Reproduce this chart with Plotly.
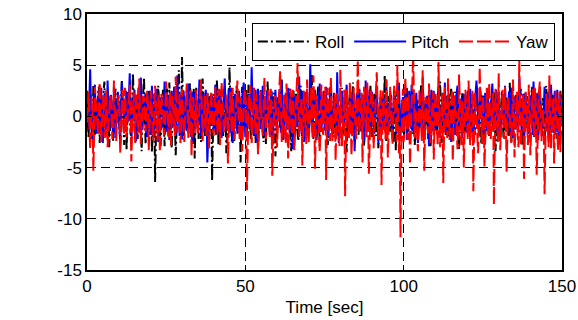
import plotly.graph_objects as go

# Values read (approximately) from the reference, sampled every 0.25 s
roll = [
    1.2, -0.8, -2.1, 0.9, 2.8, 1.1, -0.5, -2.3, 3.1, 0.2, -1.8, 1.6, 0.4, -1.0, 2.2, 2.9, -2.6, -0.7, 1.5, 0.3,
    -0.9, 2.4, 3.4, -1.6, -1.2, 0.5, 0.8, 2.0, -3.0, -1.1, 2.1, 1.3, 0.3, -2.4, -1.5, 1.7, 2.7, -0.2, -0.6, 1.0,
    1.9, -1.3, -2.4, 0.7, 3.6, 1.4, -0.2, -2.8, 1.1, 2.5, -3.3, -0.4, 2.5, 1.2, 0.6, -1.7, -1.9, 0.9, 4.2, 1.8,
    -0.8, -2.5, 1.7, 0.4, -2.2, 1.9, 2.9, -0.6, -1.1, -3.4, 0.5, 2.3, 3.8, 0.1, -2.7, -1.2, 1.3, 2.6, -0.4, -1.8,
    2.4, 0.9, -3.5, -1.4, 0.9, 2.2, -6.4, -2.0, 1.8, 0.6, 3.0, 1.5, -1.6, -2.9, 0.2, 1.4, 2.6, -0.3, -2.9, -1.0,
    1.4, 2.8, -0.7, -1.9, 3.3, 0.8, -2.0, -3.1, 0.7, 1.9, 2.0, -0.5, -3.8, -1.6, 1.0, 2.4, 4.5, 0.7, -1.3, -2.2,
    5.8, 2.1, -2.3, -0.9, 0.6, 1.8, 2.3, -1.2, -1.7, 0.4, 3.2, 1.6, -0.3, -2.4, 1.6, 2.7, -4.1, -1.5, 2.8, 0.3,
    -0.9, -2.2, 1.2, 2.5, -2.5, -0.8, 3.7, 1.1, 0.1, -1.9, -1.4, 0.9, 2.4, 1.3, -3.1, -0.6, 1.9, 2.2, -6.3, -2.4,
    2.2, 1.0, -0.6, -1.8, 3.5, 2.0, -2.8, -0.5, 1.0, 2.6, 0.4, -1.3, -1.9, 0.8, 2.7, 1.5, -3.6, -2.1, 1.5, 0.2,
    4.8, 1.7, -1.0, -2.6, 0.8, 2.0, -2.4, -0.7, 2.1, 3.0, -0.5, -1.6, 1.7, 0.6, -4.5, -1.9, 2.9, 1.2, -1.2, -0.3,
    1.4, 2.7, -2.0, -0.9, 3.1, 1.0, 0.3, -2.2, -1.6, 0.7, 2.5, 1.8, -0.8, -2.6, 1.9, 0.5, -3.2, -1.1, 0.9, 2.3,
    2.6, -0.4, -1.4, -2.5, 0.5, 1.6, -2.7, -0.3, 3.4, 1.9, -0.2, -1.5, 1.1, 2.4, -1.8, -0.6, 2.3, 0.8, -3.9, -1.7,
    0.7, 1.9, 2.0, -0.8, -1.1, 1.2, 3.6, 0.4, -2.3, -1.4, 0.4, 2.1, 1.8, -0.7, -0.9, 1.5, 2.7, -1.9, -3.4, -0.2,
    1.2, 2.5, -0.3, -1.6, 2.2, 0.9, -1.7, -2.4, 0.6, 1.7, 3.0, 0.2, -2.6, -1.2, 1.5, 2.3, -0.7, -1.5, 2.4, 0.6,
    -1.9, -0.8, 0.8, 2.2, 4.1, 1.0, -2.2, -1.7, 1.3, 0.3, -0.5, 1.9, 2.9, -0.4, -3.0, -1.3, 0.2, 1.4, 1.6, -0.9,
    -1.3, 0.6, 2.5, 1.1, -2.8, -1.9, 0.9, 2.6, 3.2, 0.5, -0.6, -2.0, 1.0, 1.8, -2.1, -0.4, 2.0, 0.7, -1.5, -2.3,
    0.5, 1.6, 2.8, -0.9, -1.8, 0.8, 1.7, -1.2, -3.5, -0.6, 0.3, 2.0, 2.2, -0.3, -0.9, 1.4, 3.3, 0.6, -2.4, -1.5,
    1.1, 2.3, -0.2, -1.8, 2.6, 1.0, -1.6, -0.5, 0.8, 2.1, -2.9, -1.2, 1.9, 0.2, 0.4, -1.4, -1.2, 1.3, 3.0, 0.9,
    -2.0, -0.7, 1.4, 2.2, -0.7, -1.9, 2.3, 0.8, -3.1, -1.0, 0.6, 1.7, 1.8, -0.6, -1.4, 0.5, 4.0, 1.2, -2.5, -1.1,
    0.9, 2.0, -0.4, -1.5, 2.1, 0.4, -1.9, -2.6, 1.2, 2.4, -3.3, -0.9, 2.7, 1.1, 0.1, -1.6, -1.0, 0.8, 1.6, -0.5,
    -2.3, -1.0, 0.7, 1.9, 2.9, 0.6, -1.5, -0.4, 1.3, 2.2, -0.6, -1.7, 2.4, 0.3, -2.8, -1.3, 0.5, 1.6, 1.7, -0.8,
    -1.1, 0.7, 3.1, 1.4, -2.0, -0.9, 0.3, 1.8, 1.9, -0.5, -0.8, -2.2, 2.5, 1.0, -3.0, -1.4, 1.0, 2.1, -0.3, -1.2,
    2.2, 0.5, -1.7, -0.6, 0.8, 2.0, 3.4, 0.9, -2.6, -1.1, 1.2, 2.3, -0.5, -1.8, 2.0, 0.7, -1.3, -2.0, 0.6, 1.5,
    2.7, 0.2, -2.2, -0.8, 1.5, 2.4, -0.9, -1.6, 1.8, 0.4, -3.2, -1.5, 0.4, 1.9, 2.3, -0.2, -1.6, -0.7, 1.1, 2.0,
    -0.7, 1.3, 2.6, -0.6, -2.4, -1.0, 1.0, 2.2, 0.2, -1.3, -1.8, 0.9, 3.0, 1.1, -0.4, -1.5, 1.4, 2.5, -2.7, -0.9,
    2.1, 0.8, -1.0, -2.1, 0.7, 1.6, 2.8, -0.5, -1.9, -0.8, 1.3, 2.0, -0.6, -1.4, 2.4, 1.0, -3.4, -1.6, 0.9, 1.8,
    1.7, -0.3, -1.2, 0.6, 2.5, 1.2, -2.1, -1.0, 0.5, 1.7, 1.9, -0.6, -0.8, -1.9, 3.3, 0.9, -2.5, -1.2, 1.0, 2.1,
    -0.3, -1.4, 2.2, 0.7, -1.5, -0.5, 0.8, 2.0, 2.7, 0.3, -2.9, -1.7, 1.2, 2.3, -0.5, -1.1, 2.0, 0.6, -1.7, -0.4,
    0.6, 1.8, 2.9, 0.4, -1.4, -2.1, 1.5, 2.2, -2.3, -0.9, 0.3, 1.5, 2.4, 0.2, -1.1, -1.9, 1.8, 0.9, -2.6, -1.0,
    3.0, 1.1, -0.7, -1.6, 1.3, 2.1, -1.9, -0.6, 2.1, 0.8, -0.4, -1.8, 1.6, 2.4, -2.2, -1.3, 0.9, 1.7, 2.5, 0.4,
    -1.0,
]

pitch = [
    2.5, 0.4, -1.0, 1.8, 4.6, 0.9, -2.2, -0.6, 0.8, 2.3, 3.1, -0.4, -1.7, 0.5, 1.9, 2.6, -0.4, -1.5, 2.8, 0.7,
    -2.6, -0.8, 1.2, 2.2, 0.3, -1.3, 3.5, 1.4, -1.5, -0.3, 2.0, 1.1, -0.8, -2.0, 2.9, 0.6, -2.1, -0.9, 1.4, 2.4,
    0.6, -1.4, -2.8, 0.8, 3.3, 1.9, 1.0, -0.7, -1.2, 1.5, 2.4, 0.2, -0.5, 2.1, 4.2, 0.8, -1.9, -1.0, 0.9, 2.0,
    2.6, -0.6, -2.4, -1.1, 1.5, 2.8, -0.2, -1.6, 3.8, 1.2, -1.3, 0.4, 0.7, 1.8, 2.2, -0.5, -2.0, -0.8, 1.8, 2.5,
    -0.9, -1.8, 3.0, 1.0, -1.6, -0.4, 1.1, 2.3, 2.7, 0.1, -2.5, -1.2, 0.4, 1.6, 1.9, -0.8, -1.1, 0.9, 3.4, 1.3,
    -0.6, -1.5, 2.1, 0.5, -2.3, -0.7, 1.3, 2.5, 0.2, -1.0, 2.9, 1.4, -1.8, -0.5, 4.0, 1.7, -0.7, -1.9, 1.6, 2.2,
    -2.2, -0.9, 2.5, 1.2, 0.5, -1.1, -1.4, 0.6, 3.2, 1.5, -0.3, -2.0, 1.8, 2.4, -2.7, -0.8, 2.3, 1.0, 0.8, -0.6,
    -1.0, 1.3, 3.6, 0.9, -1.9, -0.9, 1.2, 2.3, -0.5, -1.5, 2.6, 1.1, -4.5, -1.6, 1.7, 2.0, 0.3, -0.8, 2.0, 1.2,
    -1.5, -0.4, 3.1, 1.6, -0.8, -1.7, 1.4, 2.6, 2.4, 0.3, -2.1, -0.9, 0.6, 1.9, 3.7, 0.8, -1.2, -0.3, 1.9, 2.7,
    -0.4, -1.6, 2.8, 0.9, -2.6, -1.1, 1.0, 2.2, 0.2, -0.9, -1.7, 0.8, 2.5, 1.4, -0.9, -2.0, 1.6, 2.3, 3.3, 0.5,
    -2.0, -0.7, 0.9, 2.0, 2.2, -0.3, -1.3, 1.0, 4.8, 1.6, -0.6, -1.9, 1.5, 2.6, -2.4, -1.0, 2.7, 1.3, 0.4, -1.2,
    -1.1, 0.8, 3.0, 1.5, -1.8, -0.6, 1.2, 2.4, 2.3, 0.4, -0.7, -1.8, 1.8, 2.5, -2.9, -1.2, 0.7, 1.9, 2.6, 0.3,
    -1.4, 0.5, 1.9, 2.4, -0.3, -1.6, 3.4, 1.2, -2.2, -0.8, 1.1, 2.3, 0.5, -1.3, 2.8, 1.0, -1.6, -0.5, 1.4, 2.2,
    -3.2, -1.1, 2.0, 0.9, 0.8, -0.9, -1.0, 1.6, 3.9, 1.1, -0.5, -1.7, 1.7, 2.5, -2.5, -0.9, 2.4, 1.3, 0.2, -1.5,
    -1.9, 1.4, 5.1, 1.8, -0.8, -1.6, 1.3, 2.1, 2.6, 0.5, -2.3, -1.0, 0.9, 2.0, 3.2, 0.6, -1.5, -0.3, 1.6, 2.5,
    -0.4, -1.4, 2.9, 1.0, -2.0, -0.7, 1.1, 2.2, 0.3, -1.1, -1.7, 0.6, 2.3, 1.5, -0.6, -1.9, 4.3, 1.3, -2.6, -0.9,
    1.0, 2.0, 2.5, 0.3, -1.2, -0.2, 0.6, 1.9, 3.1, 0.7, -2.1, -1.0, 1.8, 2.4, -0.7, -1.6, 2.2, 1.1, -3.4, -1.2,
    1.4, 2.3, 0.5, -0.8, 2.7, 1.2, -1.4, -0.4, 1.0, 2.1, -2.4, -1.1, 3.5, 1.4, -0.3, -1.5, 1.6, 2.6, -1.8, -0.6,
    2.4, 0.9, -0.9, -1.7, 1.2, 2.2, 3.0, 0.5, -2.7, -1.0, 0.8, 1.9, -1.3, -0.2, 2.1, 1.2, -0.5, -1.4, 3.6, 1.0,
    -1.6, -0.5, 1.5, 2.5, 0.2, -1.2, -2.2, 0.7, 2.6, 1.3, -0.8, -1.7, 1.3, 2.4, 3.3, 0.8, -1.9, -0.7, 0.6, 1.9,
    -1.1, 0.6, 2.8, 1.2, -2.3, -0.8, 1.7, 2.5, 0.4, -1.2, 3.1, 1.4, -1.5, -0.4, 0.9, 2.0, 2.3, 0.3, -2.6, -1.1,
    1.2, 2.4, -0.4, -1.5, 3.8, 1.2, -1.7, -0.6, 0.7, 1.8, 2.0, 0.1, -2.9, -1.3, 1.5, 2.6, -0.6, -1.4, 2.5, 0.9,
    -1.4, -0.3, 0.8, 2.1, 2.9, 0.7, -2.0, -0.9, 1.3, 2.3, -0.2, -1.5, 3.3, 1.1, -1.8, -0.6, 1.1, 2.2, 0.5, -1.0,
    -2.5, -0.8, 2.4, 1.0, -0.9, -1.8, 1.7, 2.5, 3.0, 0.6, -1.2, -0.3, 0.6, 1.8, -2.1, -0.9, 2.2, 1.3, -0.7, -1.6,
    1.8, 2.5, -1.6, -0.5, 2.7, 1.0, 0.3, -1.3, -2.8, -0.9, 1.5, 2.4, 3.5, 0.9, -1.0, -1.9, 0.9, 2.0, 2.1, -0.2,
    -2.2, -1.0, 1.3, 2.3, -0.5, -1.4, 2.6, 1.1, -1.9, -0.6, 0.7, 2.1, 3.2, 0.8, -1.3, -0.4, 1.9, 2.6, -0.4, -1.5,
    2.4, 0.7, -2.4, -1.1, 1.1, 2.2, 0.2, -1.0, 3.0, 1.3, -1.5, -0.6, 1.6, 2.4, -0.8, -1.7, 2.8, 1.0, -2.1, -0.8,
    0.8, 1.9, 1.7, -0.2, -1.2, 0.5, 3.7, 1.4, -0.6, -1.5, 1.4, 2.2, -2.6, -1.0, 2.3, 1.2, 0.5, -0.9, -1.7, 0.6,
    2.0, 1.1, -0.9, -1.8, 3.4, 1.3, -1.4, -0.5, 1.2, 2.3, -2.3, -0.9, 2.5, 1.0, 0.6, -1.2, -1.1, 0.8, 2.9, 1.2,
    -0.3, -1.4, 1.5, 2.4, -2.0, -0.8, 3.1, 1.2, -0.7, -1.6, 1.8, 2.5, -1.6, -0.5, 2.6, 1.0, -2.8, -1.2, 1.0, 2.1,
    0.4,
]

yaw = [
    -0.5, 1.2, 2.4, -0.9, -3.2, -1.0, 1.8, 0.5, -5.3, -1.6, 2.9, 1.4, 0.4, -1.1, -1.7, 0.8, 3.3, 1.0, -2.5, -0.6,
    1.1, 2.2, -0.8, -2.1, 2.6, 0.9, -3.0, -1.3, 0.7, 2.0, 1.9, -0.4, -2.2, -0.9, 3.5, 1.2, -1.0, -2.4, 0.3, 1.5,
    2.1, 0.4, -3.6, -1.2, 1.4, 2.6, -0.6, -1.8, 2.8, 0.8, -2.0, -0.5, 0.9, 2.3, 3.1, 0.3, -4.4, -1.5, 1.6, 2.4,
    -1.2, -2.6, 2.3, 0.7, -0.4, -1.6, 3.7, 1.1, -2.7, -0.8, 0.5, 2.0, 1.8, -0.7, -1.5, 0.6, 2.5, 1.3, -3.3, -1.0,
    1.2, 2.5, 0.2, -1.4, -2.4, 0.5, 3.0, 1.4, -1.1, -2.3, 1.7, 2.1, -3.5, -1.1, 2.2, 0.9, 0.6, -1.7, -1.8, 0.7,
    3.4, 1.0, -0.7, -2.0, 1.3, 2.4, -2.9, -0.9, 2.0, 0.6, -0.3, -1.9, 3.9, 1.5, -1.6, -0.4, 0.8, 2.2, -2.6, -1.2,
    2.7, 0.8, -1.3, -2.5, 0.4, 1.9, 3.2, 0.6, -2.1, -0.7, 1.5, 2.6, -3.9, -1.4, 1.9, 0.8, -0.5, -1.6, 2.6, 1.1,
    -1.7, -0.5, 0.9, 2.3, 3.6, 0.9, -2.4, -1.1, 1.0, 2.0, -0.9, -1.9, 2.3, 0.7, -3.1, -1.2, 1.4, 2.5, 0.1, -1.4,
    -1.9, 0.6, 2.9, 1.2, -0.6, -1.8, 1.6, 2.7, -2.8, -0.9, 3.3, 1.1, 0.5, -1.5, -1.4, 0.9, 2.1, 1.0, -4.6, -1.8,
    1.2, 2.4, -0.2, -1.6, 2.8, 1.0, -2.3, -0.7, 0.7, 2.2, 3.5, 0.8, -1.5, -2.4, 1.9, 0.7, -3.4, -1.3, 1.0, 2.7,
    2.4, 0.3, -7.2, -2.5, 0.8, 2.1, 3.0, 0.7, -2.6, -1.0, 1.5, 2.8, -0.4, -1.7, 2.2, 0.9, -3.7, -1.4, 1.1, 2.5,
    0.3, -1.2, -1.9, 0.6, 3.8, 1.3, -2.2, -0.8, 1.4, 2.6, -0.8, -2.0, 2.7, 0.9, -5.8, -2.1, 0.6, 1.9, 2.0, -0.3,
    -3.0, -1.2, 1.7, 2.9, 4.4, 1.2, -2.5, -0.8, 0.9, 2.1, -1.3, -2.6, 3.2, 1.0, -4.1, -1.5, 1.8, 2.7, -0.5, -1.8,
    2.6, 0.9, -3.3, -1.0, 1.0, 2.4, 5.2, 1.3, -2.0, -0.6, 0.4, 1.8, -4.8, -1.7, 2.5, 0.8, -1.1, -2.7, 3.6, 1.2,
    -2.7, -0.8, 1.3, 2.8, -0.6, -2.2, 4.0, 1.4, -5.1, -1.8, 2.1, 0.6, 0.2, -1.5, -3.5, -1.0, 3.1, 1.2, -1.8, -0.4,
    1.6, 2.9, -6.2, -2.3, 2.8, 0.9, -0.9, -2.4, 3.9, 1.3, -2.4, -0.7, 0.7, 2.2, -4.3, -1.6, 2.3, 0.8, -1.4, -2.9,
    4.6, 1.5, -2.9, -1.0, 1.1, 2.6, -7.8, -2.8, 2.6, 0.9, -0.7, -2.1, 3.4, 1.2, -3.8, -1.4, 1.5, 2.8, 0.3, -1.6,
    -2.2, 0.5, 5.5, 1.8, -1.6, -0.5, 0.9, 2.3, -4.5, -1.7, 2.9, 1.1, -0.4, -2.0, 3.3, 1.0, -5.6, -2.0, 1.2, 2.6,
    2.0, 0.4, -3.1, -1.3, 0.6, 2.1, 4.3, 1.5, -2.3, -0.9, 1.4, 2.7, -6.7, -2.4, 2.5, 0.8, -0.9, -2.2, 3.6, 1.1,
    -4.0, -1.5, 1.8, 2.9, 0.1, -1.6, -2.8, 0.7, 3.0, 1.2, -1.2, -2.5, 5.0, 1.6, -3.6, -1.0, -11.8, -3.2, 1.6, 2.7,
    -2.5, -0.8, 3.8, 1.3, -0.8, -2.3, 2.2, 0.7, -4.7, -1.6, 1.3, 2.8, 6.1, 1.9, -2.1, -0.7, 0.5, -1.8, -3.4, -1.1,
    2.7, 0.9, -1.0, -2.4, 4.5, 1.4, -5.3, -1.9, 1.9, 0.5, -0.3, -1.7, 3.2, 1.1, -2.6, -0.8, 1.0, 2.4, -4.2, -1.5,
    2.4, 0.8, -1.5, -2.9, 5.3, 1.7, -3.0, -1.0, 0.8, 2.2, -6.5, -2.2, 2.9, 1.0, -0.6, -2.1, 3.7, 1.3, -2.3, -0.8,
    1.2, 2.6, -4.4, -1.6, 2.0, 0.6, 0.4, -1.3, -3.2, -1.1, 4.1, 1.5, -1.7, -2.8, 1.5, 0.4, -5.0, -1.9, 2.6, 1.0,
    -0.9, -2.3, 3.5, 1.2, -2.8, -1.0, 1.1, 2.5, -7.3, -2.6, 2.3, 0.8, 0.2, -1.9, -3.6, -1.2, 4.8, 1.6, -1.4, -2.7,
    2.0, 0.7, -4.9, -1.7, 1.6, 2.8, -0.5, -2.0, 3.3, 1.1, -2.2, -0.7, 0.9, 2.3, -8.6, -3.0, 2.7, 0.9, -1.3, -2.5,
    4.2, 1.4, -3.3, -1.2, 1.4, 2.6, -0.7, -2.2, 2.9, 1.0, -5.4, -1.9, 1.8, 0.6, 0.3, -1.6, -2.6, -0.9, 3.6, 1.3,
    -4.0, -1.4, 1.0, 2.4, -1.8, -3.0, 5.6, 1.8, -2.9, -1.0, 0.6, 2.1, -6.1, -2.2, 2.4, 0.8, -1.2, -2.8, 3.1, 1.1,
    -3.8, -1.3, 1.5, 2.7, -0.4, -2.1, 2.8, 1.0, -5.7, -2.0, 1.2, 2.5, 3.4, 1.1, -2.4, -0.8, 0.7, -1.5, -7.6, -2.7,
    2.2, 0.7, -1.6, -3.0, 4.0, 1.3, -3.1, -1.1, 0.5, 1.9, -4.6, -1.6, 2.5, 0.8, -2.0, -3.3, 1.3, 2.4, -3.5, -1.2,
    1.8,
]

dt = 0.25  # sampling step [sec]

x_ticks = [0, 50, 100, 150]
x_tick_labels = ["0", "50", "100", "150"]
y_ticks = [-15, -10, -5, 0, 5, 10]
y_tick_labels = ["-15", "-10", "-5", "0", "5", "10"]

FONT = "Liberation Sans, Arial, sans-serif"


def times(series):
    return [i * dt for i in range(len(series))]


fig = go.Figure()
fig.add_trace(go.Scatter(x=times(roll), y=roll, mode="lines", name="Roll",
                         line=dict(color="black", width=2, dash="10px,3px,2px,3px")))
fig.add_trace(go.Scatter(x=times(pitch), y=pitch, mode="lines", name="Pitch",
                         line=dict(color="blue", width=2, dash="solid")))
fig.add_trace(go.Scatter(x=times(yaw), y=yaw, mode="lines", name="Yaw",
                         line=dict(color="red", width=2, dash="14px,4px")))

axis_common = dict(
    showline=True, linecolor="black", linewidth=1.5, mirror="ticks",
    ticks="inside", ticklen=5, tickcolor="black", tickwidth=1,
    showgrid=True, gridcolor="black", gridwidth=1, griddash="9px,5px",
    zeroline=False, automargin=False, ticklabeloverflow="allow",
    tickfont=dict(family=FONT, size=17, color="black"),
)

fig.update_xaxes(range=[0, 150], tickvals=x_ticks, ticktext=x_tick_labels,
                 title=dict(text="Time [sec]", standoff=6,
                            font=dict(family=FONT, size=17, color="black")),
                 **axis_common)
fig.update_yaxes(range=[-15, 10], tickvals=y_ticks, ticktext=y_tick_labels, **axis_common)

fig.update_layout(
    width=578, height=320,
    margin=dict(l=87, r=16, t=14, b=50),
    paper_bgcolor="white", plot_bgcolor="white",
    font=dict(family=FONT, size=17, color="black"),
    showlegend=True,
    legend=dict(orientation="h", x=0.985, y=0.965, xanchor="right", yanchor="top",
                bgcolor="white", bordercolor="black", borderwidth=1,
                font=dict(family=FONT, size=17, color="black"),
                itemwidth=52, tracegroupgap=0, traceorder="normal"),
)

# remove the page's default body margin so the figure fills the window exactly
fig.write_html("out.html", config={"displayModeBar": False},
               post_script="document.body.style.margin='0';")
